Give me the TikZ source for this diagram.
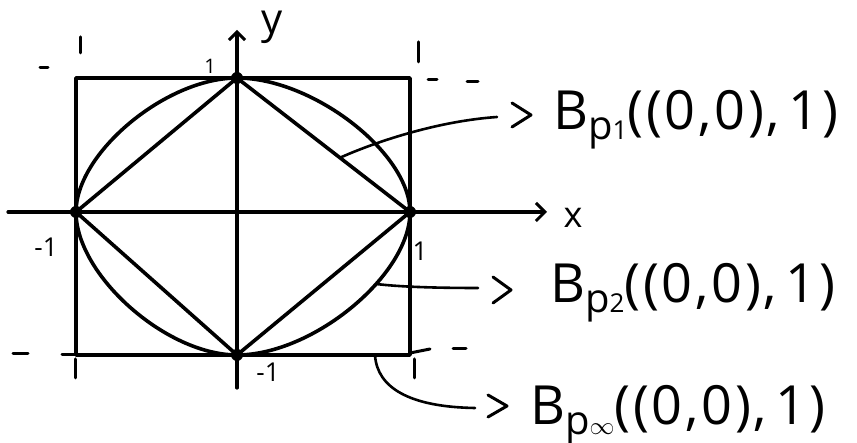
\documentclass[tikz,border=0pt]{standalone}
\usepackage{fontspec}
\setmainfont{Open Sans}
\usetikzlibrary{arrows.meta}
\newcommand\Bsubp[1]{B\raisebox{-0.17em}{\fontsize{40}{40}\selectfont p\raisebox{-0.02em}{\fontsize{26}{26}\selectfont #1}}}
\begin{document}
\begin{tikzpicture}[x=1pt,y=1pt, line cap=round, line join=round,
  shapeline/.style={line width=3.6pt},
  axisline/.style={line width=3.2pt},
  leadline/.style={line width=2.6pt},
  chev/.style={line width=3pt},
  extline/.style={line width=3pt},
  dot/.style={circle, fill=black, inner sep=0pt, minimum size=12pt},
  ticklab/.style={inner sep=0pt, font=\fontsize{26}{26}\selectfont},
  lab/.style={anchor=base west, inner sep=0pt, font=\fontsize{54}{54}\selectfont\addfontfeature{LetterSpace=5}}]
\useasboundingbox (0,0) rectangle (857,443);
% key points
\coordinate (C) at (237,231);
\coordinate (T) at (237,365);
\coordinate (B) at (237,88);
\coordinate (L) at (76,231);
\coordinate (R) at (410,231);
% axes
\coordinate (xs) at (8,231);
\coordinate (xe) at (547,231);
\coordinate (ys) at (237,55);
\coordinate (ye) at (237,413);
\draw[axisline,-{Straight Barb[length=9pt,width=18pt,line width=3pt]}] (xs) -- (xe);
\draw[axisline,-{Straight Barb[length=8pt,width=16pt,line width=3pt]}] (ys) -- (ye);
\node[inner sep=0pt, font=\fontsize{36}{36}\selectfont] (xl) at (573,225) {x};
\node[inner sep=0pt, font=\fontsize{42}{42}\selectfont] (yl) at (272,416) {y};
% square
\draw[shapeline] (76,88) rectangle (410,365);
% circle (p=2)
\draw[shapeline] (R) .. controls (410,290) and (313,365) .. (T)
  .. controls (166,365) and (76,290) .. (L)
  .. controls (76,168) and (166,88) .. (B)
  .. controls (313,88) and (410,168) .. coordinate[pos=0.63] (s2) (R);
% diamond (p=1)
\draw[shapeline] (T) -- coordinate[pos=0.595] (s1) (R) -- (B) -- (L) -- cycle;
% dots
\foreach \p in {T,B,L,R} \node[dot] at (\p) {};
% dashed extensions
\draw[extline] (40,375) -- (48,375);
\draw[extline] (80,390) -- (80,406);
\draw[extline] (418,381) -- (418,401);
\draw[extline] (428,363) -- (437,363);
\draw[extline] (467,361) -- (478,361);
\draw[extline] (13,89) -- (28,89);
\draw[extline] (62,88) -- (76,88);
\draw[extline] (75,65) -- (75,84);
\draw[extline] (410,90) -- (430,94);
\draw[extline] (453,94) -- (466,94);
\draw[extline] (414,65) -- (414,84);
% tick labels
\node[ticklab, font=\fontsize{20}{20}\selectfont] (t1) at (210,377) {1};
\node[ticklab] (tm1l) at (46,196) {-1};
\node[ticklab] (t1r) at (420,192) {1};
\node[ticklab] (tm1b) at (268,71) {-1};
% leaders
\coordinate (e1) at (497,326);
\coordinate (e2) at (478,155);
\coordinate (s3) at (375,88);
\coordinate (e3) at (475,35);
\draw[leadline] (s1) .. controls (380,303) and (440,322) .. (e1);
\draw[leadline] (s2) .. controls (385,158) and (410,155) .. (e2);
\draw[leadline] (s3) .. controls (377,55) and (410,36) .. (e3);
% chevrons
\coordinate (c1) at (531,328);
\coordinate (c2) at (511,153);
\coordinate (c3) at (507,37);
\draw[chev] (c1) ++(-19,12) -- (c1) -- ++(-19,-12);
\draw[chev] (c2) ++(-18,13) -- (c2) -- ++(-18,-13);
\draw[chev] (c3) ++(-19,11) -- (c3) -- ++(-19,-11);
% labels
\node[lab] (l1) at (553,313) {\Bsubp{1}((0,0),\,1)};
\node[lab] (l2) at (550,140) {\Bsubp{2}((0,0),\,1)};
\node[lab] (l3) at (530,18) {\Bsubp{\ensuremath{\infty}}((0,0),\,1)};
\end{tikzpicture}
\end{document}
